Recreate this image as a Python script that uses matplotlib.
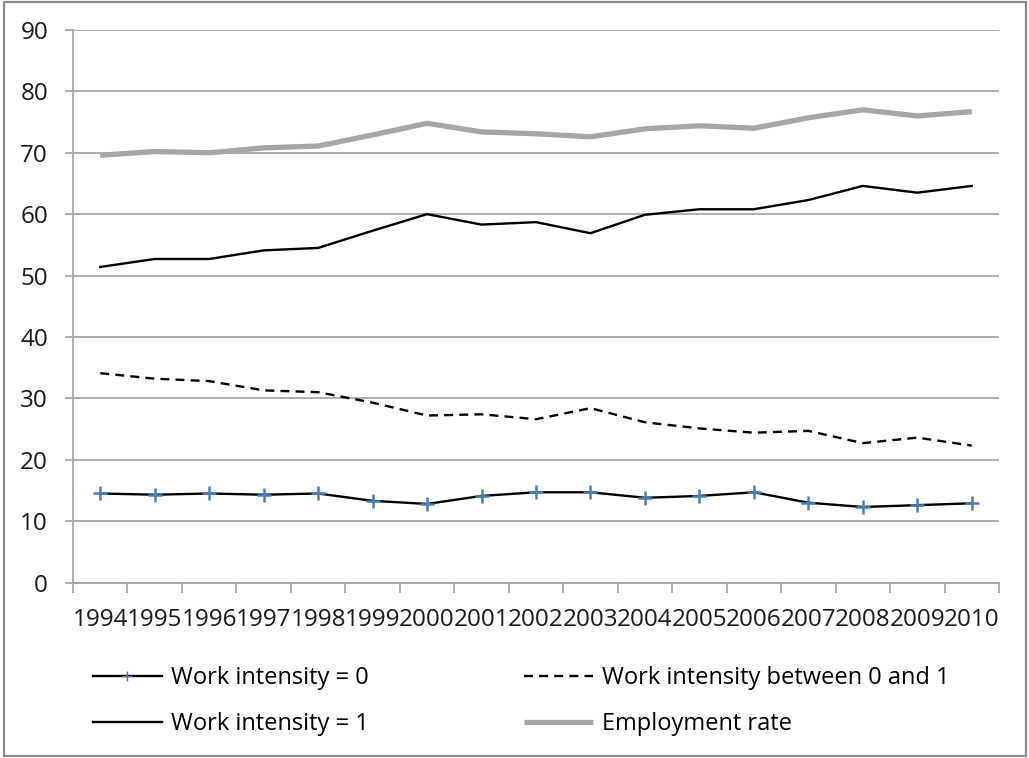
import matplotlib
matplotlib.use("Agg")
import matplotlib.pyplot as plt
from matplotlib.lines import Line2D
from matplotlib.patches import Rectangle

years = ["1994", "1995", "1996", "1997", "1998", "1999", "2000", "2001", "2002",
         "2003", "2004", "2005", "2006", "2007", "2008", "2009", "2010"]

work_intensity_0 = [14.5, 14.3, 14.5, 14.3, 14.5, 13.3, 12.8, 14.1, 14.7,
                    14.7, 13.8, 14.1, 14.7, 13.0, 12.3, 12.6, 12.9]
work_intensity_between = [34.1, 33.2, 32.8, 31.3, 31.0, 29.3, 27.2, 27.4, 26.6,
                          28.4, 26.1, 25.1, 24.4, 24.7, 22.7, 23.6, 22.3]
work_intensity_1 = [51.4, 52.7, 52.7, 54.1, 54.5, 57.3, 60.0, 58.3, 58.7,
                    56.9, 59.9, 60.8, 60.8, 62.3, 64.6, 63.5, 64.6]
employment_rate = [69.6, 70.2, 70.0, 70.8, 71.1, 72.9, 74.8, 73.4, 73.1,
                   72.6, 73.9, 74.4, 74.0, 75.7, 77.0, 76.0, 76.7]

y_ticks = [0, 10, 20, 30, 40, 50, 60, 70, 80, 90]

FONT = "Open Sans"
FS = 17.5
LEG_FS = 17
GRID = "#a0a0a0"
DASH = (0, (3.8, 2.6))

W, H = 1029, 758
fig = plt.figure(figsize=(W / 100, H / 100), dpi=100)
fig.patch.set_facecolor("white")

# outer chart frame
fig.patches.append(Rectangle((4 / W, 2.5 / H), (1025.5 - 4) / W, (756 - 2.5) / H,
                             transform=fig.transFigure, fill=False,
                             edgecolor="#8c8c8c", linewidth=1.6))

ax = fig.add_axes([73 / W, (H - 582.5) / H, (999 - 73) / W, (582.5 - 30) / H])

x = list(range(len(years)))

ax.plot(x, employment_rate, color="#a6a6a6", linewidth=3.8,
        solid_capstyle="butt", label="Employment rate", zorder=3)
ax.plot(x, work_intensity_1, color="black", linewidth=1.7,
        label="Work intensity = 1", zorder=4)
ax.plot(x, work_intensity_between, color="black", linewidth=1.7,
        linestyle=DASH, label="Work intensity between 0 and 1", zorder=4)
ax.plot(x, work_intensity_0, color="black", linewidth=1.7, marker="+",
        markersize=10, markeredgewidth=1.8, markeredgecolor="#4a7ebb",
        label="Work intensity = 0", zorder=5)

ax.set_xlim(-0.5, len(years) - 0.5)
ax.set_ylim(0, 90)

ax.set_yticks(y_ticks)
ax.set_yticklabels([str(v) for v in y_ticks], fontfamily=FONT, fontsize=FS,
                   color="#1a1a1a")
ax.tick_params(axis="y", length=6, width=1.2, color=GRID, pad=12)

ax.set_xticks(x)
ax.set_xticklabels(years, fontfamily=FONT, fontsize=FS, color="#1a1a1a")
ax.set_xticks([i - 0.5 for i in range(len(years) + 1)], minor=True)
ax.tick_params(axis="x", which="major", length=0, pad=18)
ax.tick_params(axis="x", which="minor", length=7, width=1.2, color=GRID)

ax.yaxis.grid(True, color=GRID, linewidth=1.2)
ax.set_axisbelow(True)
for side in ("top", "right"):
    ax.spines[side].set_visible(False)
for side in ("left", "bottom"):
    ax.spines[side].set_color(GRID)
    ax.spines[side].set_linewidth(1.2)

# legend in two columns
h0 = Line2D([], [], color="black", linewidth=1.7, marker="+", markersize=7,
            markeredgewidth=1.0, markeredgecolor="#4a7ebb")
h1 = Line2D([], [], color="black", linewidth=1.7)
h2 = Line2D([], [], color="black", linewidth=1.7, linestyle=DASH)
h3 = Line2D([], [], color="#a6a6a6", linewidth=3.8, solid_capstyle="butt")

common = dict(frameon=False, prop={"family": FONT, "size": LEG_FS}, loc="upper left",
              borderpad=0, borderaxespad=0, handlelength=2.92,
              handletextpad=0.38, labelspacing=0.95)
leg1 = fig.legend([h0, h1], ["Work intensity = 0", "Work intensity = 1"],
                  bbox_to_anchor=(93 / W, (H - 666) / H), **common)
leg2 = fig.legend([h2, h3], ["Work intensity between 0 and 1", "Employment rate"],
                  bbox_to_anchor=(524 / W, (H - 666) / H), **common)

fig.savefig("out.png", dpi=100, facecolor="white")
